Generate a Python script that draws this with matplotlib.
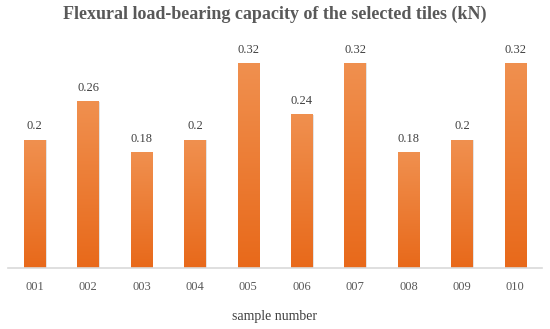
import matplotlib
matplotlib.use("Agg")
import matplotlib.pyplot as plt
import numpy as np
from matplotlib.colors import LinearSegmentedColormap

samples = ["001", "002", "003", "004", "005", "006", "007", "008", "009", "010"]
capacity = [0.2, 0.26, 0.18, 0.2, 0.32, 0.24, 0.32, 0.18, 0.2, 0.32]
value_labels = ["0.2", "0.26", "0.18", "0.2", "0.32", "0.24", "0.32", "0.18", "0.2", "0.32"]

fig = plt.figure(figsize=(5.5, 3.29), dpi=100)
ax = fig.add_axes([0.0145, 0.1854, 0.971, 0.68])

x = np.arange(len(samples))
width = 0.40
cmap = LinearSegmentedColormap.from_list("org", ["#E8691A", "#F0904F"])

bars = ax.bar(x, capacity, width=width, color="none", edgecolor="none", zorder=2)
grad = np.linspace(0, 1, 256).reshape(-1, 1)
for b in bars:
    x0, y0 = b.get_x(), b.get_y()
    w, h = b.get_width(), b.get_height()
    # soft shadow
    ax.add_patch(plt.Rectangle((x0 + 0.012, y0), w + 0.012, h, color="#c8c8c8",
                               alpha=0.5, lw=0, zorder=1.5))
    ax.imshow(grad, extent=(x0, x0 + w, y0, y0 + h), origin="lower",
              cmap=cmap, aspect="auto", zorder=2)

for xi, v, lab in zip(x, capacity, value_labels):
    ax.text(xi, v + 0.012, lab, ha="center", va="bottom", fontsize=9,
            color="#404040", family="Liberation Serif")

ax.set_xlim(-0.5, len(samples) - 0.5)
ax.set_ylim(0, 0.35)
ax.set_xticks(x)
ax.set_xticklabels(samples, fontsize=9, color="#595959", family="Liberation Serif")
ax.tick_params(axis="x", length=0, pad=9)
ax.set_yticks([])
for s in ["top", "right", "left"]:
    ax.spines[s].set_visible(False)
ax.spines["bottom"].set_color("#d9d9d9")
ax.spines["bottom"].set_linewidth(1.2)
ax.spines["bottom"].set_zorder(3)
ax.set_xlabel("sample number", fontsize=10, color="#404040",
              family="Liberation Serif", labelpad=12.5)

fig.text(0.5, 0.957, "Flexural load-bearing capacity of the selected tiles (kN)",
         ha="center", va="center", fontsize=13, fontweight="bold",
         color="#595959", family="Liberation Serif")

fig.savefig("out.png", dpi=100)
